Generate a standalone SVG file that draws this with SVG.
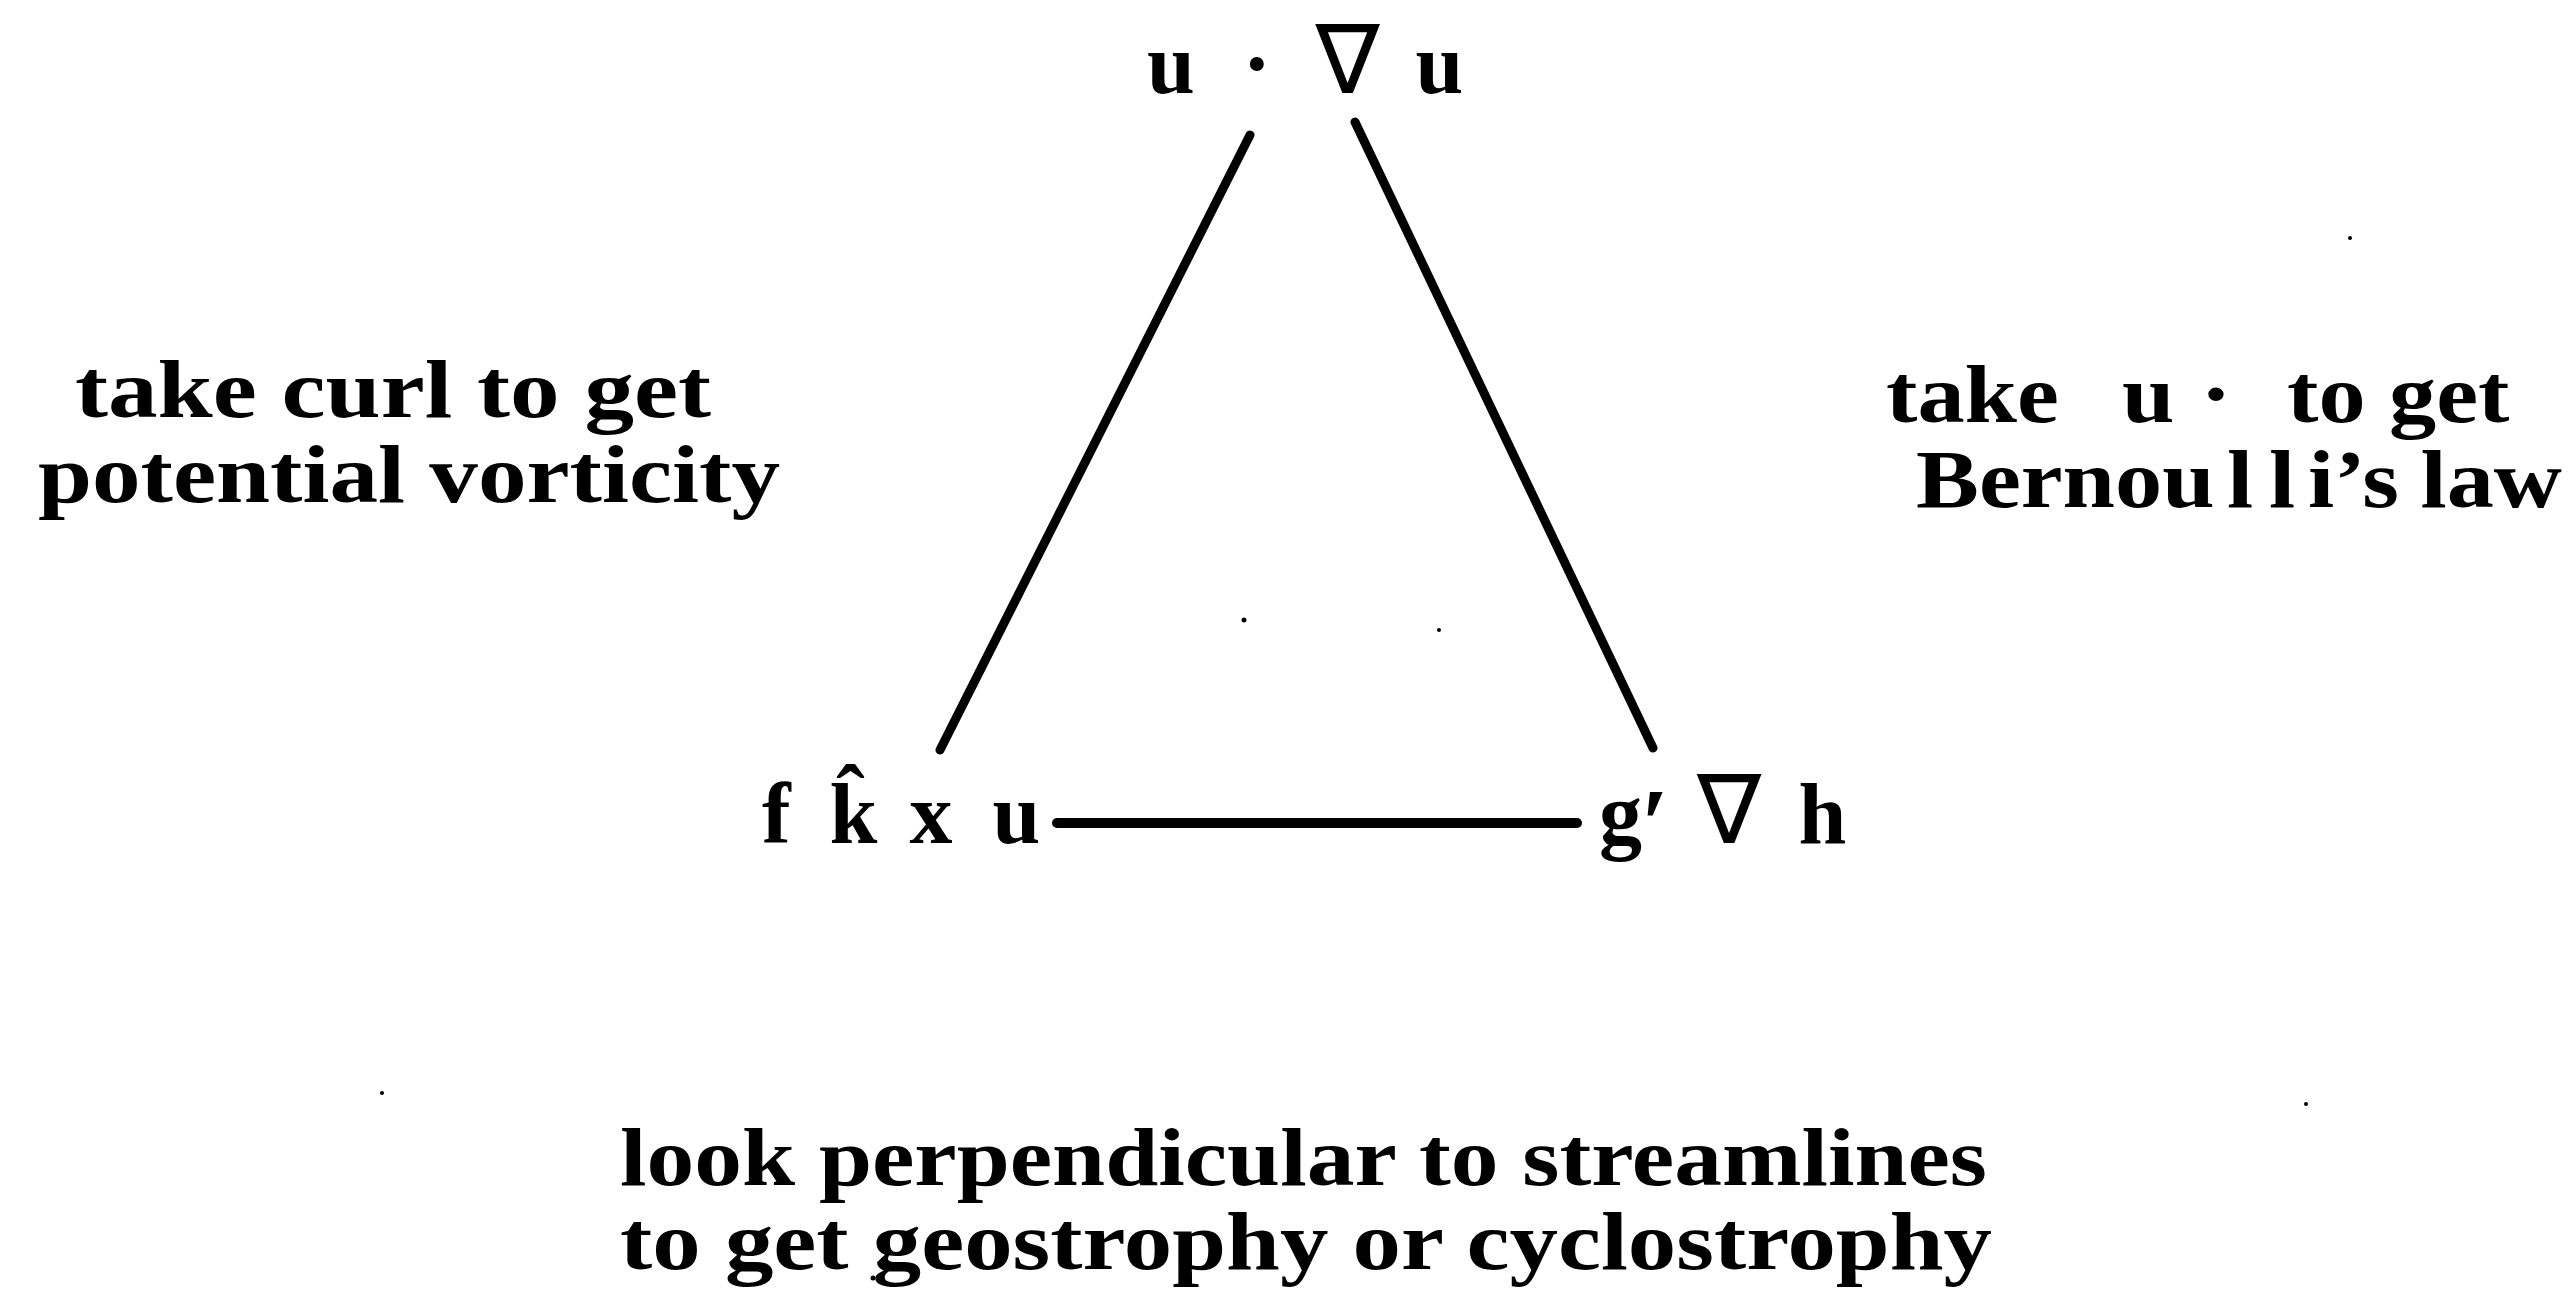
<svg xmlns="http://www.w3.org/2000/svg" width="2573" height="1290" viewBox="0 0 2573 1290">
<style>
.t{font-family:"Liberation Serif","Times New Roman",serif;font-weight:bold;font-size:86px;fill:#000}
.s{font-size:82px}
.nb{font-family:"DejaVu Sans",sans-serif;font-weight:normal;font-size:96px}
.pr{font-size:100px}
.ln{stroke:#000;stroke-linecap:round;fill:none}
.dot{fill:#000}
</style>
<rect width="2573" height="1290" fill="#fff"/>
<g id="connectors">
<line class="ln" x1="1250" y1="135" x2="940" y2="750" stroke-width="9"/>
<line class="ln" x1="1355" y1="122" x2="1653" y2="748" stroke-width="9"/>
<line class="ln" x1="1057" y1="823" x2="1577" y2="823" stroke-width="10"/>
</g>
<g id="node-top">
<text class="t" y="93"><tspan x="1147">u</tspan><tspan x="1221"> ·</tspan><tspan class="nb" x="1285"> ∇</tspan><tspan x="1394"> u</tspan></text>
</g>
<g id="node-fku">
<text class="t" y="843"><tspan x="762">f</tspan><tspan x="808"> k̂</tspan><tspan x="888"> x</tspan><tspan x="971"> u</tspan></text>
</g>
<g id="node-gh">
<text class="t" y="843"><tspan x="1599">g</tspan><tspan class="pr" x="1641" dy="14">′ </tspan><tspan class="nb" x="1697" dy="-14">∇</tspan><tspan x="1777"> h</tspan></text>
</g>
<g id="label-left">
<text class="t s"><tspan x="75" y="417" textLength="636" lengthAdjust="spacingAndGlyphs">take curl to get</tspan><tspan x="38" y="502" textLength="742" lengthAdjust="spacingAndGlyphs">potential vorticity</tspan></text>
</g>
<g id="label-right">
<text class="t s" transform="scale(1.15,1)"><tspan x="1640" y="422">take</tspan><tspan x="1824.7"> u</tspan><tspan x="1892.7"> ·</tspan><tspan x="1968.2"> to get</tspan><tspan x="1666.1" y="507">Bernou</tspan><tspan x="1936.5">l</tspan><tspan x="1973">l</tspan><tspan x="2007">i’s</tspan><tspan x="2084.3"> law</tspan></text>
</g>
<g id="label-bottom">
<text class="t s"><tspan x="620" y="1185" textLength="1367" lengthAdjust="spacingAndGlyphs">look perpendicular to streamlines</tspan><tspan x="620" y="1269" textLength="1372" lengthAdjust="spacingAndGlyphs">to get geostrophy or cyclostrophy</tspan></text>
</g>
<g id="specks">
<circle class="dot" cx="1244" cy="620" r="2.5"/>
<circle class="dot" cx="1439" cy="630" r="2"/>
<circle class="dot" cx="2350" cy="238" r="2"/>
<circle class="dot" cx="382" cy="1093" r="2"/>
<circle class="dot" cx="2306" cy="1104" r="2"/>
<circle class="dot" cx="873" cy="1278" r="2.5"/>
</g>
</svg>
